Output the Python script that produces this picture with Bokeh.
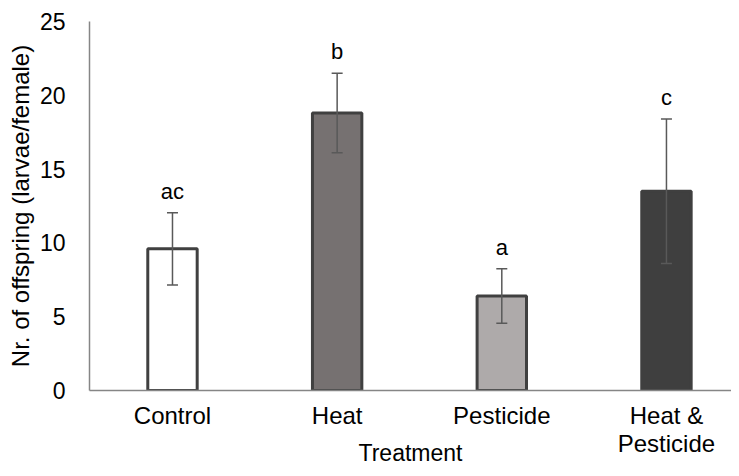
import numpy as np
from bokeh.plotting import figure
from bokeh.models import ColumnDataSource, Range1d, FixedTicker, Whisker, TeeHead
from bokeh.core.properties import value
from bokeh.embed import file_html
from bokeh.resources import INLINE

categories = ["Control", "Heat", "Pesticide", "Heat &\nPesticide"]
means = [9.6, 18.8, 6.4, 13.5]
errors = [2.45, 2.7, 1.85, 4.9]
letters = ["ac", "b", "a", "c"]
fills = ["#FFFFFF", "#767171", "#AEAAAA", "#3F3F3F"]
outlines = ["#404040", "#404040", "#404040", "#3F3F3F"]
y_ticks = [0, 5, 10, 15, 20, 25]

FONT = "Liberation Sans"

xs = list(range(len(categories)))
src = ColumnDataSource(dict(
    x=xs, top=means,
    lower=[m - e for m, e in zip(means, errors)],
    upper=[m + e for m, e in zip(means, errors)],
    letter=letters, fill=fills, line=outlines,
))

p = figure(width=731, height=468, output_backend="svg", toolbar_location=None,
           x_range=Range1d(-0.504, 3.395), y_range=Range1d(0, 25),
           min_border_left=89, min_border_right=0, min_border_top=21,
           min_border_bottom=65)
p.outline_line_color = None
p.xgrid.visible = False
p.ygrid.visible = False

p.vbar(x="x", top="top", bottom=0, width=0.3, source=src,
       fill_color="fill", line_color="line", line_width=3)

w = Whisker(base="x", lower="lower", upper="upper", source=src,
            line_color="#595959", line_width=1.5, level="annotation",
            upper_head=TeeHead(size=11, line_color="#595959", line_width=1.5),
            lower_head=TeeHead(size=11, line_color="#595959", line_width=1.5))
p.add_layout(w)

p.text(x="x", y="upper", text="letter", source=src, text_align="center",
       text_baseline="bottom", y_offset=-9, text_font=value(FONT),
       text_font_size="22px", text_color="#000000")

for ax in (p.xaxis[0], p.yaxis[0]):
    ax.axis_line_color = "#868686"
    ax.axis_line_width = 1.5
    ax.major_tick_line_color = None
    ax.minor_tick_line_color = None
    ax.major_label_text_font = FONT
    ax.major_label_text_color = "#000000"
    ax.axis_label_text_font = FONT
    ax.axis_label_text_font_style = "normal"
    ax.axis_label_text_color = "#000000"

p.yaxis.ticker = FixedTicker(ticks=y_ticks)
p.yaxis.major_label_text_font_size = "23px"
p.yaxis.major_label_standoff = 18
p.yaxis.axis_label = "Nr. of offspring (larvae/female)"
p.yaxis.axis_label_text_font_size = "24px"
p.yaxis.axis_label_standoff = 3

p.xaxis.ticker = FixedTicker(ticks=xs)
p.xaxis.major_label_overrides = {i: c for i, c in zip(xs, categories)}
p.xaxis.major_label_text_font_size = "24px"
p.xaxis.major_label_text_line_height = 1.05
p.xaxis.major_label_standoff = 5
p.xaxis.axis_label = "Treatment"
p.xaxis.axis_label_text_font_size = "23px"
p.xaxis.axis_label_standoff = -20

open("out.html", "w").write(file_html(p, INLINE))
